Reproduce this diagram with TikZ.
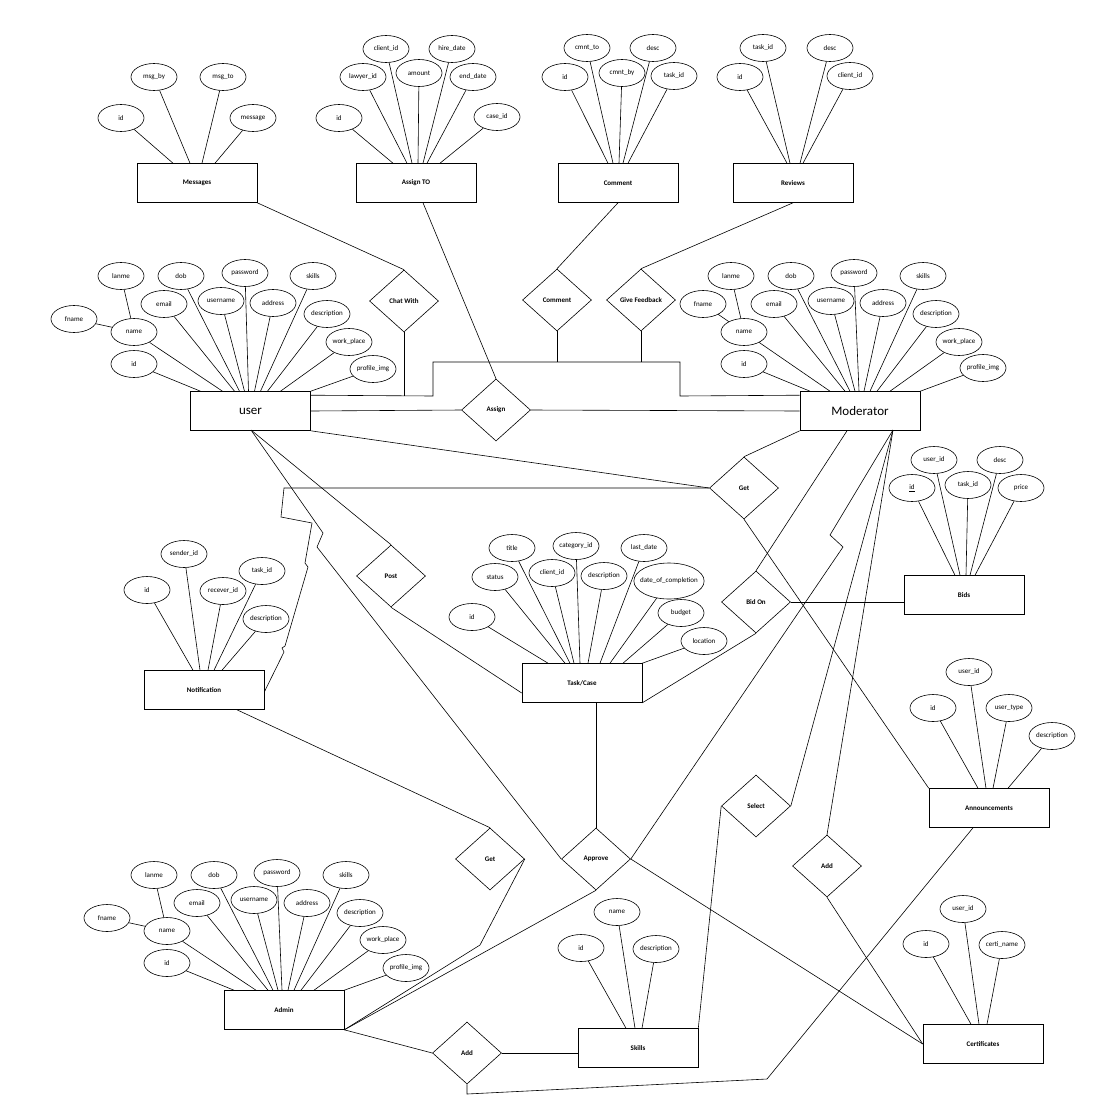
\documentclass[tikz,border=0pt]{standalone}
\usepackage{fontspec}
\setmainfont{Carlito}
\usetikzlibrary{shapes.geometric}
\tikzset{
  entity/.style={rectangle,draw,line width=0.6pt,minimum width=120pt,minimum height=39pt,
    inner sep=0pt,font=\bfseries\fontsize{7}{8}\selectfont},
  bigentity/.style={entity,font=\fontsize{13}{14}\selectfont},
  attr/.style={ellipse,draw,line width=0.6pt,minimum width=46pt,minimum height=27pt,
    inner sep=-4pt,font=\fontsize{7}{8}\selectfont},
  rel/.style={diamond,draw,line width=0.6pt,minimum width=69pt,minimum height=62pt,
    inner sep=0pt,font=\bfseries\fontsize{7}{8}\selectfont},
  link/.style={line width=0.6pt}
}

\begin{document}
\begin{tikzpicture}[x=1pt,y=-1pt]
  \path[fill=white] (0,0) rectangle (1107,1109);
  \useasboundingbox (0,0) rectangle (1107,1109);
  % entities
  \node[entity] (msg) at (197,183) {Messages};
  \node[entity] (asgto) at (416,183) {Assign TO};
  \node[entity] (cmnt) at (618,183) {Comment};
  \node[entity] (rev) at (793,183) {Reviews};
  \node[bigentity] (user) at (250.5,411) {user};
  \node[bigentity] (mod) at (860,411) {Moderator};
  \node[entity] (bids) at (964,595) {Bids};
  \node[entity] (notif) at (204,690) {Notification};
  \node[entity] (task) at (582,683) {Task/Case};
  \node[entity] (ann) at (989,808) {Announcements};
  \node[entity] (admin) at (284,1010) {Admin};
  \node[entity] (skills) at (638,1048) {Skills};
  \node[entity] (cert) at (983,1044) {Certificates};
  % relationships
  \node[rel] (chat) at (404,301) {Chat With};
  \node[rel] (cmntrel) at (557,300) {Comment};
  \node[rel] (feed) at (641,300) {Give Feedback};
  \node[rel] (assign) at (496,410) {Assign};
  \node[rel] (getup) at (744,488) {Get};
  \node[rel] (bidon) at (756,602) {Bid On};
  \node[rel] (post) at (391,576) {Post};
  \node[rel] (getlow) at (490,859) {Get};
  \node[rel] (approve) at (596,859) {Approve};
  \node[rel] (select) at (756,806) {Select};
  \node[rel] (addr) at (827,866) {Add};
  \node[rel] (addb) at (467,1053) {Add};

  % Messages attributes
  \node[attr] (msg-id) at (121,118) {id};
  \node[attr] (msg-by) at (154,77) {msg\_by};
  \node[attr] (msg-to) at (223,77) {msg\_to};
  \node[attr] (msg-text) at (253,118) {message};
  \draw[link] (msg-id) -- ([xshift=-24pt]msg.north);
  \draw[link] (msg-by) -- ([xshift=-7pt]msg.north);
  \draw[link] (msg-to) -- ([xshift=5pt]msg.north);
  \draw[link] (msg-text) -- ([xshift=18pt]msg.north);

  % Assign TO attributes
  \node[attr] (at-id) at (339,118) {id};
  \node[attr] (at-lawyer) at (363,77) {lawyer\_id};
  \node[attr] (at-client) at (386,49) {client\_id};
  \node[attr] (at-amount) at (419,73) {amount};
  \node[attr] (at-hire) at (452,49) {hire\_date};
  \node[attr] (at-end) at (473,77) {end\_date};
  \node[attr] (at-case) at (497,117) {case\_id};
  \draw[link] (at-id) -- ([xshift=-23pt]asgto.north);
  \draw[link] (at-lawyer) -- ([xshift=-9pt]asgto.north);
  \draw[link] (at-client) -- ([xshift=-4pt]asgto.north);
  \draw[link] (at-amount) -- ([xshift=2pt]asgto.north);
  \draw[link] (at-hire) -- ([xshift=7pt]asgto.north);
  \draw[link] (at-end) -- ([xshift=11pt]asgto.north);
  \draw[link] (at-case) -- ([xshift=24pt]asgto.north);

  % Comment attributes
  \node[attr] (cm-id) at (565,77) {id};
  \node[attr] (cm-to) at (587,48) {cmnt\_to};
  \node[attr] (cm-by) at (622,73) {cmnt\_by};
  \node[attr] (cm-desc) at (653,48) {desc};
  \node[attr] (cm-task) at (674,76) {task\_id};
  \draw[link] (cm-id) -- ([xshift=-10pt]cmnt.north);
  \draw[link] (cm-to) -- ([xshift=-5pt]cmnt.north);
  \draw[link] (cm-by) -- ([xshift=1pt]cmnt.north);
  \draw[link] (cm-desc) -- ([xshift=5pt]cmnt.north);
  \draw[link] (cm-task) -- ([xshift=10pt]cmnt.north);

  % Reviews attributes
  \node[attr] (rv-id) at (740,77) {id};
  \node[attr] (rv-task) at (763,48) {task\_id};
  \node[attr] (rv-desc) at (830,48) {desc};
  \node[attr] (rv-client) at (850,76) {client\_id};
  \draw[link] (rv-id) -- ([xshift=-6pt]rev.north);
  \draw[link] (rv-task) -- ([xshift=-3pt]rev.north);
  \draw[link] (rv-desc) -- ([xshift=7pt]rev.north);
  \draw[link] (rv-client) -- ([xshift=10pt]rev.north);

  % user attributes
  \node[attr] (u-fname) at (74,319) {fname};
  \node[attr] (u-lname) at (121,276) {lanme};
  \node[attr] (u-name) at (134,332) {name};
  \node[attr] (u-id) at (134,364) {id};
  \node[attr] (u-email) at (164,304) {email};
  \node[attr] (u-dob) at (181,276) {dob};
  \node[attr] (u-uname) at (221,301) {username};
  \node[attr] (u-pass) at (245,273) {password};
  \node[attr] (u-addr) at (273,303) {address};
  \node[attr] (u-skills) at (313,276) {skills};
  \node[attr] (u-desc) at (327,314) {description};
  \node[attr] (u-work) at (349,342) {work\_place};
  \node[attr] (u-img) at (373,369) {profile\_img};
  \draw[link] (u-fname) -- (u-name);
  \draw[link] (u-lname) -- (u-name);
  \draw[link] (u-id) -- ([xshift=-50pt]user.north);
  \draw[link] (u-name) -- ([xshift=-28pt]user.north);
  \draw[link] (u-email) -- ([xshift=-16pt]user.north);
  \draw[link] (u-dob) -- ([xshift=-11pt]user.north);
  \draw[link] (u-uname) -- ([xshift=-6pt]user.north);
  \draw[link] (u-pass) -- ([xshift=-2pt]user.north);
  \draw[link] (u-addr) -- ([xshift=4pt]user.north);
  \draw[link] (u-skills) -- ([xshift=10pt]user.north);
  \draw[link] (u-desc) -- ([xshift=17pt]user.north);
  \draw[link] (u-work) -- ([xshift=30pt]user.north);
  \draw[link] (u-img) -- (user.north east);

  % Moderator attributes
  \node[attr] (m-fname) at (703,304) {fname};
  \node[attr] (m-lname) at (731,276) {lanme};
  \node[attr] (m-name) at (744,332) {name};
  \node[attr] (m-id) at (744,364) {id};
  \node[attr] (m-email) at (774,304) {email};
  \node[attr] (m-dob) at (791,276) {dob};
  \node[attr] (m-uname) at (831,301) {username};
  \node[attr] (m-pass) at (854,273) {password};
  \node[attr] (m-addr) at (883,303) {address};
  \node[attr] (m-skills) at (923,276) {skills};
  \node[attr] (m-desc) at (936,314) {description};
  \node[attr] (m-work) at (959,342) {work\_place};
  \node[attr] (m-img) at (983,368) {profile\_img};
  \draw[link] (m-fname) -- (m-name);
  \draw[link] (m-lname) -- (m-name);
  \draw[link] (m-id) -- ([xshift=-50pt]mod.north);
  \draw[link] (m-name) -- ([xshift=-30pt]mod.north);
  \draw[link] (m-email) -- ([xshift=-15pt]mod.north);
  \draw[link] (m-dob) -- ([xshift=-10pt]mod.north);
  \draw[link] (m-uname) -- ([xshift=-5pt]mod.north);
  \draw[link] (m-pass) -- ([xshift=-1pt]mod.north);
  \draw[link] (m-addr) -- ([xshift=4pt]mod.north);
  \draw[link] (m-skills) -- ([xshift=10pt]mod.north);
  \draw[link] (m-desc) -- ([xshift=17pt]mod.north);
  \draw[link] (m-work) -- ([xshift=30pt]mod.north);
  \draw[link] (m-img) -- (mod.north east);

  % Admin attributes
  \node[attr] (a-fname) at (107,918) {fname};
  \node[attr] (a-lname) at (154,875) {lanme};
  \node[attr] (a-name) at (167,931) {name};
  \node[attr] (a-id) at (167,963) {id};
  \node[attr] (a-email) at (197,903) {email};
  \node[attr] (a-dob) at (214,875) {dob};
  \node[attr] (a-uname) at (254,900) {username};
  \node[attr] (a-pass) at (277,873) {password};
  \node[attr] (a-addr) at (307,903) {address};
  \node[attr] (a-skills) at (346,875) {skills};
  \node[attr] (a-desc) at (360,913) {description};
  \node[attr] (a-work) at (383,940) {work\_place};
  \node[attr] (a-img) at (406,968) {profile\_img};
  \draw[link] (a-fname) -- (a-name);
  \draw[link] (a-lname) -- (a-name);
  \draw[link] (a-id) -- ([xshift=-50pt]admin.north);
  \draw[link] (a-name) -- ([xshift=-28pt]admin.north);
  \draw[link] (a-email) -- ([xshift=-16pt]admin.north);
  \draw[link] (a-dob) -- ([xshift=-11pt]admin.north);
  \draw[link] (a-uname) -- ([xshift=-6pt]admin.north);
  \draw[link] (a-pass) -- ([xshift=-2pt]admin.north);
  \draw[link] (a-addr) -- ([xshift=4pt]admin.north);
  \draw[link] (a-skills) -- ([xshift=10pt]admin.north);
  \draw[link] (a-desc) -- ([xshift=17pt]admin.north);
  \draw[link] (a-work) -- ([xshift=30pt]admin.north);
  \draw[link] (a-img) -- (admin.north east);

  % Bids attributes
  \node[attr] (b-id) at (912,488) {\underline{id}};
  \node[attr] (b-user) at (934,460) {user\_id};
  \node[attr] (b-task) at (968,485) {task\_id};
  \node[attr] (b-desc) at (1000,460) {desc};
  \node[attr] (b-price) at (1021,488) {price};
  \draw[link] (b-id) -- ([xshift=-9pt]bids.north);
  \draw[link] (b-user) -- ([xshift=-4pt]bids.north);
  \draw[link] (b-task) -- ([xshift=2pt]bids.north);
  \draw[link] (b-desc) -- ([xshift=6pt]bids.north);
  \draw[link] (b-price) -- ([xshift=11pt]bids.north);

  % Notification attributes
  \node[attr] (n-id) at (147,590) {id};
  \node[attr] (n-sender) at (184,554) {sender\_id};
  \node[attr] (n-recv) at (223,591) {recever\_id};
  \node[attr] (n-task) at (262,571) {task\_id};
  \node[attr] (n-desc) at (266,619) {description};
  \draw[link] (n-id) -- ([xshift=-11pt]notif.north);
  \draw[link] (n-sender) -- ([xshift=-4pt]notif.north);
  \draw[link] (n-recv) -- ([xshift=4pt]notif.north);
  \draw[link] (n-task) -- ([xshift=10pt]notif.north);
  \draw[link] (n-desc) -- ([xshift=18pt]notif.north);

  % Task/Case attributes
  \node[attr] (t-title) at (512,548) {title};
  \node[attr] (t-cat) at (576,546) {category\_id};
  \node[attr] (t-last) at (644,548) {last\_date};
  \node[attr] (t-status) at (495,577) {status};
  \node[attr] (t-client) at (552,573) {client\_id};
  \node[attr] (t-desc) at (604,576) {description};
  \node[attr,minimum width=69pt,minimum height=36pt] (t-done) at (669,581) {date\_of\_completion};
  \node[attr] (t-id) at (472,617) {id};
  \node[attr] (t-budget) at (681,613) {budget};
  \node[attr] (t-loc) at (704,641) {location};
  \draw[link] (t-id) -- ([xshift=-34pt]task.north);
  \draw[link] (t-status) -- ([xshift=-17pt]task.north);
  \draw[link] (t-title) -- ([xshift=-12pt]task.north);
  \draw[link] (t-client) -- ([xshift=-8pt]task.north);
  \draw[link] (t-cat) -- ([xshift=-2pt]task.north);
  \draw[link] (t-desc) -- ([xshift=6pt]task.north);
  \draw[link] (t-last) -- ([xshift=18pt]task.north);
  \draw[link] (t-done) -- ([xshift=28pt]task.north);
  \draw[link] (t-budget) -- ([xshift=41pt]task.north);
  \draw[link] (t-loc) -- (task.north east);

  % Announcements attributes
  \node[attr] (an-id) at (933,708) {id};
  \node[attr] (an-user) at (969,672) {user\_id};
  \node[attr] (an-type) at (1009,708) {user\_type};
  \node[attr] (an-desc) at (1052,736) {description};
  \draw[link] (an-id) -- ([xshift=-11pt]ann.north);
  \draw[link] (an-user) -- ([xshift=-3pt]ann.north);
  \draw[link] (an-type) -- ([xshift=4pt]ann.north);
  \draw[link] (an-desc) -- ([xshift=19pt]ann.north);

  % Skills attributes
  \node[attr] (s-name) at (617,912) {name};
  \node[attr] (s-id) at (581,948) {id};
  \node[attr] (s-desc) at (656,949) {description};
  \draw[link] (s-id) -- ([xshift=-12pt]skills.north);
  \draw[link] (s-name) -- ([xshift=-3pt]skills.north);
  \draw[link] (s-desc) -- ([xshift=4pt]skills.north);

  % Certificates attributes
  \node[attr] (c-user) at (963,909) {user\_id};
  \node[attr] (c-id) at (926,944) {id};
  \node[attr] (c-name) at (1002,945) {certi\_name};
  \draw[link] (c-id) -- ([xshift=-12pt]cert.north);
  \draw[link] (c-user) -- ([xshift=-4pt]cert.north);
  \draw[link] (c-name) -- ([xshift=4pt]cert.north);

  % bend points
  \coordinate (top1) at (433,396);
  \coordinate (top2) at (433,362);
  \coordinate (top3) at (680,362);
  \coordinate (top4) at (680,396);
  \coordinate (ubot) at (251,430);
  \coordinate (mbot) at (893,430);

  % relationship lines
  \draw[link] (msg.south east) -- (chat.north);
  \draw[link] ([xshift=7pt]asgto.south) -- (assign.north);
  \draw[link] (cmnt.south) -- (cmntrel.north);
  \draw[link] (rev.south) -- (feed.north);
  \draw[link] ([yshift=-4pt]user.north east) -- (top1) -- (top2) -- (top3) -- (top4)
    -- ([yshift=-4pt]mod.north west);
  \draw[link] (chat.south) -- (chat.south |- top1);
  \draw[link] (cmntrel.south) -- (cmntrel.south |- top2);
  \draw[link] (feed.south) -- (feed.south |- top2);
  \draw[link] (user.east) -- (assign.west);
  \draw[link] (assign.east) -- (mod.west);
  \draw[link] (ubot) -- (post.north);
  \draw[link] (post.south) -- ([yshift=-10pt]task.west);
  \draw[link] (ubot) -- (323,533) -- (317,547) -- (approve.west);
  \draw[link] (user.south east) -- (getup.west);
  \draw[link] (getup.west) -- (284,488) -- (281,517) -- (312,523) -- (305,563) -- (308,567)
    -- (285,646) -- (282,648) -- (284,652) -- ([yshift=-2pt]notif.east);
  \draw[link] (getup.north) -- (mod.south west);
  \draw[link] (getup.south) -- (ann.north west);
  \draw[link] (task.south east) -- (bidon.south);
  \draw[link] (bidon.east) -- (bidon.east -| bids.west);
  \draw[link] (bidon.north) -- ([xshift=-13pt]mod.south);
  \draw[link] (approve.north |- task.south) -- (approve.north);
  \draw[link] (mbot) -- (830,535) -- (843,547) -- (approve.east);
  \draw[link] (mbot) -- (select.east);
  \draw[link] (mbot) -- (addr.north);
  \draw[link] (select.west) -- (skills.north east);
  \draw[link] (addr.south) -- (cert.west);
  \draw[link] (approve.east) -- (cert.west);
  \draw[link] ([xshift=-16pt]ann.south) -- (767,1079) -- (467,1094) -- (addb.south);
  \draw[link] ([xshift=33pt]notif.south) -- (getlow.north);
  \draw[link] (getlow.east) -- (480,945) -- (admin.south east);
  \draw[link] (approve.south) -- (admin.south east);
  \draw[link] (admin.south east) -- (addb.west);
  \draw[link] (addb.east) -- (addb.east -| skills.west);
\end{tikzpicture}
\end{document}
